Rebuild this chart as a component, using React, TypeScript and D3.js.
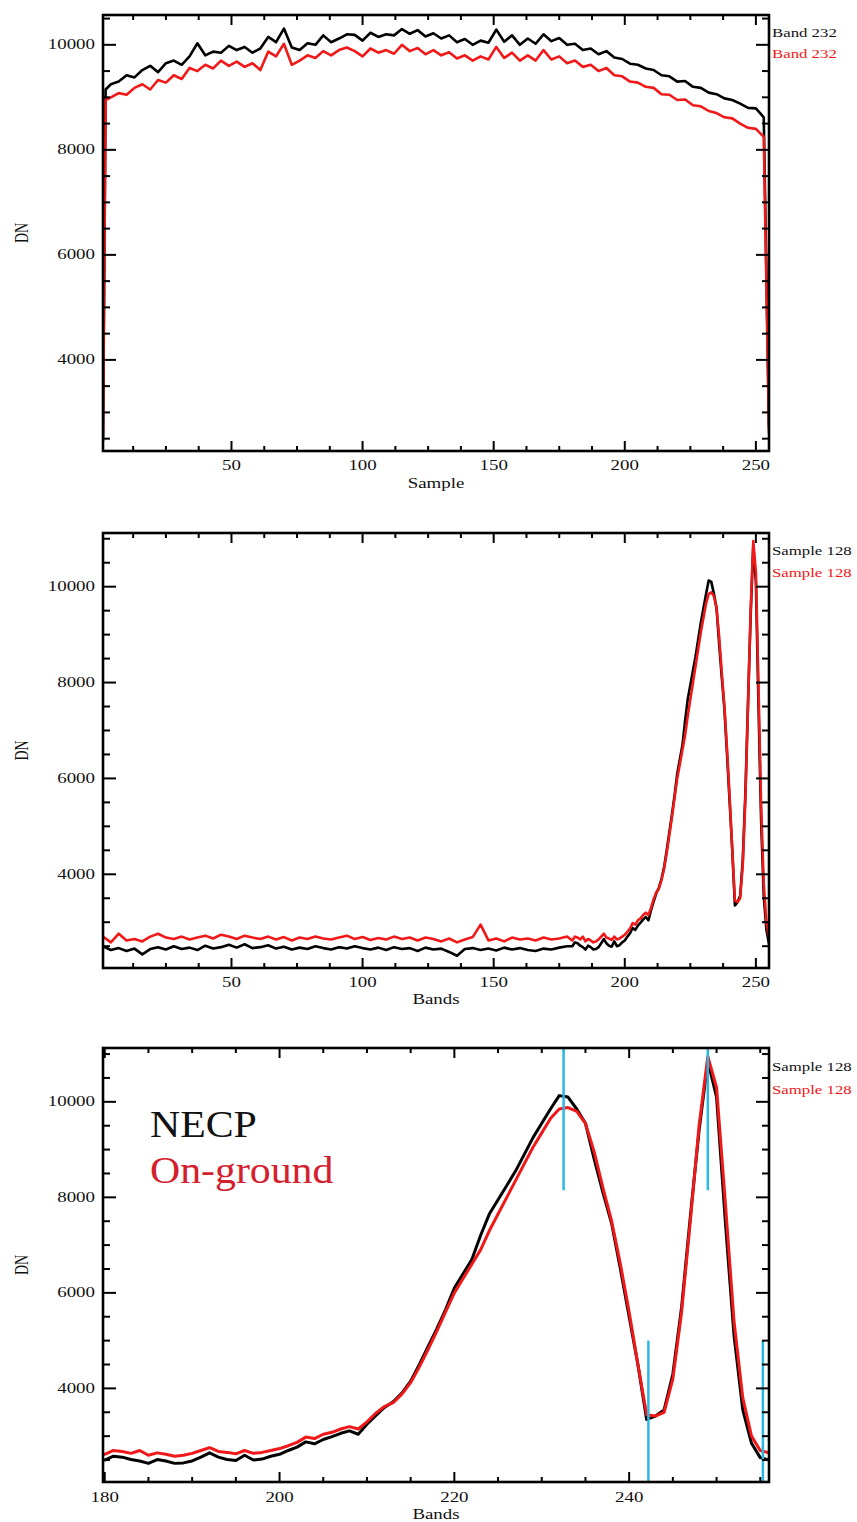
import React from 'react';
import * as d3 from 'd3';

// ---------- Data ----------
// Panel 1: Band 232 profile across samples
const SAMPLE_X = [1, 2, 4, 7, 10, 13, 16, 19, 22, 25, 28, 31, 34, 37, 40, 43, 46, 49, 52, 55, 58, 61, 64, 67, 70, 73, 76, 79, 82, 85, 88, 91, 94, 97, 100, 103, 106, 109, 112, 115, 118, 121, 124, 127, 130, 133, 136, 139, 142, 145, 148, 151, 154, 157, 160, 163, 166, 169, 172, 175, 178, 181, 184, 187, 190, 193, 196, 199, 202, 205, 208, 211, 214, 217, 220, 223, 226, 229, 232, 235, 238, 241, 244, 247, 250, 253, 255];
const BAND232_NECP = [2450, 9150, 9250, 9300, 9420, 9380, 9520, 9600, 9480, 9650, 9700, 9620, 9780, 10030, 9800, 9870, 9850, 9980, 9900, 9960, 9850, 9930, 10150, 10050, 10310, 9950, 9900, 10030, 10000, 10180, 10050, 10120, 10200, 10190, 10080, 10230, 10150, 10200, 10180, 10300, 10210, 10280, 10160, 10220, 10120, 10180, 10050, 10110, 10000, 10080, 10040, 10290, 10060, 10180, 10000, 10120, 10020, 10200, 10070, 10130, 10000, 10020, 9900, 9930, 9820, 9880, 9760, 9730, 9640, 9620, 9550, 9520, 9420, 9400, 9300, 9310, 9200, 9180, 9090, 9060, 8980, 8950, 8880, 8800, 8790, 8620, 2700];
const BAND232_GROUND = [2550, 8950, 9000, 9080, 9050, 9180, 9250, 9150, 9330, 9280, 9420, 9350, 9560, 9500, 9620, 9550, 9700, 9600, 9680, 9580, 9650, 9520, 9870, 9780, 10020, 9620, 9700, 9800, 9750, 9880, 9800, 9900, 9950, 9880, 9780, 9930, 9850, 9900, 9830, 10000, 9880, 9940, 9820, 9900, 9800, 9860, 9740, 9800, 9700, 9780, 9720, 9960, 9750, 9850, 9700, 9800, 9700, 9900, 9720, 9780, 9650, 9700, 9580, 9620, 9500, 9560, 9420, 9400, 9300, 9280, 9200, 9180, 9060, 9050, 8950, 8960, 8850, 8830, 8740, 8700, 8620, 8600, 8500, 8420, 8400, 8250, 2600];

// Panels 2 & 3: Sample 128 spectrum across bands
const BAND_X = [1, 4, 7, 10, 13, 16, 19, 22, 25, 28, 31, 34, 37, 40, 43, 46, 49, 52, 55, 58, 61, 64, 67, 70, 73, 76, 79, 82, 85, 88, 91, 94, 97, 100, 103, 106, 109, 112, 115, 118, 121, 124, 127, 130, 133, 136, 139, 142, 145, 148, 151, 154, 157, 160, 163, 166, 169, 172, 175, 178,
  180, 181, 182, 183, 184, 185, 186, 187, 188, 189, 190, 191, 192, 193, 194, 195, 196, 197, 198, 199, 200, 201, 202, 203, 204, 205, 206, 207, 208, 209, 210, 211, 212, 213, 214, 215, 216, 217, 218, 219, 220, 221, 222, 223, 224, 225, 226, 227, 228, 229, 230, 231, 232, 233, 234, 235, 236, 237, 238, 239, 240, 241, 242, 243, 244, 245, 246, 247, 248, 249, 250, 251, 252, 253, 254, 255, 256];
const SAMPLE128_NECP = [
  2500, 2420, 2460, 2400, 2450, 2330, 2440, 2480, 2430, 2500,
  2440, 2470, 2420, 2510, 2450, 2480, 2530, 2470, 2540, 2460,
  2480, 2520, 2450, 2490, 2430, 2470, 2440, 2500, 2460, 2430,
  2480, 2450, 2500, 2460, 2430, 2470, 2420, 2480, 2440, 2460,
  2400, 2470, 2430, 2450, 2380, 2300, 2440, 2460, 2420, 2450,
  2410, 2470, 2430, 2460, 2420, 2400, 2450, 2430, 2470, 2500,
  2500, 2580, 2560, 2510, 2480, 2430, 2510, 2480, 2430, 2440,
  2480, 2560, 2650, 2560, 2510, 2490, 2600, 2500, 2520, 2580,
  2620, 2700, 2770, 2880, 2840, 2930, 2990, 3060, 3110, 3040,
  3250, 3430, 3600, 3720, 3900, 4150, 4500, 4880, 5250, 5650,
  6100, 6400, 6700, 7200, 7650, 7950, 8250, 8550, 8900, 9250,
  9550, 9850, 10130, 10100, 9850, 9550, 8800, 8100, 7450, 6500,
  5500, 4500, 3350, 3420, 3550, 4300, 5700, 7600, 9400, 10850,
  10100, 7500, 5100, 3550, 2850, 2550, 2500];
const SAMPLE128_GROUND = [
  2700, 2580, 2760, 2620, 2650, 2600, 2700, 2760, 2680, 2650,
  2700, 2640, 2680, 2720, 2660, 2740, 2700, 2650, 2720, 2680,
  2650, 2700, 2640, 2690, 2620, 2680, 2650, 2700, 2660, 2640,
  2680, 2720, 2650, 2690, 2630, 2670, 2640, 2700, 2650, 2680,
  2620, 2680, 2650, 2600, 2660, 2580, 2640, 2690, 2950, 2620,
  2660, 2600, 2680, 2640, 2660, 2620, 2680, 2640, 2660, 2700,
  2620, 2700, 2680, 2640, 2700, 2600, 2650, 2620, 2580, 2600,
  2640, 2700, 2760, 2680, 2660, 2630, 2700, 2640, 2660, 2700,
  2740, 2800, 2870, 2980, 2950, 3040, 3080, 3150, 3200, 3150,
  3300, 3480, 3620, 3700, 3880, 4120, 4450, 4820, 5200, 5600,
  6000, 6300, 6600, 6900, 7300, 7650, 8000, 8350, 8700, 9050,
  9350, 9650, 9850, 9880, 9800, 9550, 8950, 8200, 7500, 6600,
  5600, 4500, 3450, 3420, 3500, 4200, 5600, 7500, 9500, 10950,
  10300, 7900, 5400, 3800, 3000, 2700, 2650];

// Ticks
const X_TICKS_FULL = [50, 100, 150, 200, 250];
const X_TICKS_ZOOM = [180, 200, 220, 240];
const Y_TICKS = [4000, 6000, 8000, 10000];

// Cyan marker lines (panel 3)
const CYAN_UPPER_BANDS = [232.5, 249];
const CYAN_LOWER_BANDS = [242.2, 255.3];
const CYAN_UPPER_FROM = 8150;
const CYAN_LOWER_TO = 5000;

const LEGEND_P1 = 'Band 232';
const LEGEND_P23 = 'Sample 128';

// ---------- Styles ----------
const FONT = "'Liberation Serif', 'Times New Roman', serif";
const RED = '#f01818';
const BLACK = '#000000';
const CYAN = '#2ab8e2';
const SX = 1.35;

type PanelCfg = {
  id: string;
  left: number; right: number; top: number; bottom: number;
  xDomain: [number, number]; yDomain: [number, number];
  xTicks: number[]; xMinor: number;
  xs: number[]; black: number[]; red: number[];
  legend: string; legendY: [number, number];
  xTitle: string; xLabelY: number; xTitleY: number;
  lineW: number;
  cyan?: boolean;
};

function STxt(props: { x: number; y: number; size: number; fill?: string; anchor?: string; sx?: number; rotate?: boolean; children: React.ReactNode }) {
  const { x, y, size, fill = '#111', anchor = 'start', sx = SX, rotate = false } = props;
  return (
    <text
      transform={`translate(${x},${y}) scale(${sx},1)${rotate ? ' rotate(-90)' : ''}`}
      fontFamily={FONT}
      fontSize={size}
      fill={fill}
      textAnchor={anchor as any}
    >
      {props.children}
    </text>
  );
}

function Panel({ c }: { c: PanelCfg }) {
  const x = d3.scaleLinear().domain(c.xDomain).range([c.left, c.right]);
  const y = d3.scaleLinear().domain(c.yDomain).range([c.bottom, c.top]);
  const line = d3.line<[number, number]>().x((d) => x(d[0])).y((d) => y(d[1]));
  const blackPts = c.xs.map((v, i) => [v, c.black[i]] as [number, number]);
  const redPts = c.xs.map((v, i) => [v, c.red[i]] as [number, number]);

  const xMinor = d3.range(Math.ceil(c.xDomain[0] / c.xMinor) * c.xMinor, c.xDomain[1] + 1e-9, c.xMinor)
    .filter((t) => !c.xTicks.includes(t));
  const yMinor = d3.range(Math.ceil(c.yDomain[0] / 500) * 500, c.yDomain[1] + 1e-9, 500)
    .filter((t) => !Y_TICKS.includes(t));

  const majX = 10, minX = 5, majY = 13, minY = 7;
  const tickStroke = 2;
  const cx = (c.left + c.right) / 2;
  const cy = (c.top + c.bottom) / 2;

  return (
    <g>
      <defs>
        <clipPath id={`clip-${c.id}`}>
          <rect x={c.left} y={c.top} width={c.right - c.left} height={c.bottom - c.top} />
        </clipPath>
      </defs>
      <g clipPath={`url(#clip-${c.id})`}>
        <path d={line(blackPts) || ''} fill="none" stroke={BLACK} strokeWidth={c.lineW} strokeLinejoin="round" />
        <path d={line(redPts) || ''} fill="none" stroke={RED} strokeWidth={c.lineW} strokeLinejoin="round" />
      </g>
      {c.cyan && (
        <g stroke={CYAN} strokeWidth={2.5}>
          {CYAN_UPPER_BANDS.map((b) => (
            <line key={`u${b}`} x1={x(b)} x2={x(b)} y1={y(CYAN_UPPER_FROM)} y2={c.top} />
          ))}
          {CYAN_LOWER_BANDS.map((b) => (
            <line key={`l${b}`} x1={x(b)} x2={x(b)} y1={y(CYAN_LOWER_TO)} y2={c.bottom} />
          ))}
        </g>
      )}
      {/* ticks */}
      <g stroke="#000" strokeWidth={tickStroke}>
        {c.xTicks.map((t) => (
          <g key={`xt${t}`}>
            <line x1={x(t)} x2={x(t)} y1={c.bottom} y2={c.bottom - majX} />
            <line x1={x(t)} x2={x(t)} y1={c.top} y2={c.top + majX} />
          </g>
        ))}
        {xMinor.map((t) => (
          <g key={`xm${t}`}>
            <line x1={x(t)} x2={x(t)} y1={c.bottom} y2={c.bottom - minX} />
            <line x1={x(t)} x2={x(t)} y1={c.top} y2={c.top + minX} />
          </g>
        ))}
        {Y_TICKS.map((t) => (
          <g key={`yt${t}`}>
            <line x1={c.left} x2={c.left + majY} y1={y(t)} y2={y(t)} />
            <line x1={c.right} x2={c.right - majY} y1={y(t)} y2={y(t)} />
          </g>
        ))}
        {yMinor.map((t) => (
          <g key={`ym${t}`}>
            <line x1={c.left} x2={c.left + minY} y1={y(t)} y2={y(t)} />
            <line x1={c.right} x2={c.right - minY} y1={y(t)} y2={y(t)} />
          </g>
        ))}
      </g>
      <rect x={c.left} y={c.top} width={c.right - c.left} height={c.bottom - c.top} fill="none" stroke="#000" strokeWidth={2.6} />
      {/* tick labels */}
      {c.xTicks.map((t) => (
        <STxt key={`xl${t}`} x={x(t)} y={c.xLabelY} size={14} anchor="middle">{t}</STxt>
      ))}
      {Y_TICKS.map((t) => (
        <STxt key={`yl${t}`} x={95} y={y(t) + 4.5} size={14} anchor="end">{t}</STxt>
      ))}
      <STxt x={cx} y={c.xTitleY} size={14} anchor="middle">{c.xTitle}</STxt>
      <STxt x={28} y={cy} size={14} anchor="middle" rotate>DN</STxt>
      {/* legend */}
      <STxt x={c.right + 3} y={c.legendY[0]} size={12} sx={1.4} fill="#111">{c.legend}</STxt>
      <STxt x={c.right + 3} y={c.legendY[1]} size={12} sx={1.4} fill={RED}>{c.legend}</STxt>
    </g>
  );
}

export default function App() {
  const p1: PanelCfg = {
    id: 'p1', left: 103, right: 769, top: 15, bottom: 451,
    xDomain: [1, 255], yDomain: [2265, 10568],
    xTicks: X_TICKS_FULL, xMinor: 12.5,
    xs: SAMPLE_X, black: BAND232_NECP, red: BAND232_GROUND,
    legend: LEGEND_P1, legendY: [37, 58],
    xTitle: 'Sample', xLabelY: 470, xTitleY: 488, lineW: 2.6,
  };
  const p2: PanelCfg = {
    id: 'p2', left: 103, right: 769, top: 533, bottom: 968,
    xDomain: [1, 255], yDomain: [2045, 11120],
    xTicks: X_TICKS_FULL, xMinor: 12.5,
    xs: BAND_X, black: SAMPLE128_NECP, red: SAMPLE128_GROUND,
    legend: LEGEND_P23, legendY: [555, 577],
    xTitle: 'Bands', xLabelY: 987, xTitleY: 1004, lineW: 2.6,
  };
  const p3: PanelCfg = {
    id: 'p3', left: 103, right: 769, top: 1048, bottom: 1482,
    xDomain: [179.8, 256], yDomain: [2040, 11127],
    xTicks: X_TICKS_ZOOM, xMinor: 5,
    xs: BAND_X, black: SAMPLE128_NECP, red: SAMPLE128_GROUND,
    legend: LEGEND_P23, legendY: [1071, 1094],
    xTitle: 'Bands', xLabelY: 1502, xTitleY: 1519, lineW: 3, cyan: true,
  };
  return (
    <svg width={857} height={1522} style={{ position: 'absolute', left: 0, top: 0, background: '#fff', display: 'block' }}>
      <rect x={0} y={0} width={857} height={1522} fill="#fff" />
      <Panel c={p1} />
      <Panel c={p2} />
      <Panel c={p3} />
      <STxt x={150} y={1137} size={38} sx={1.1} fill="#111">NECP</STxt>
      <STxt x={150} y={1183} size={38} sx={1.1} fill="#d4202e">On-ground</STxt>
    </svg>
  );
}
